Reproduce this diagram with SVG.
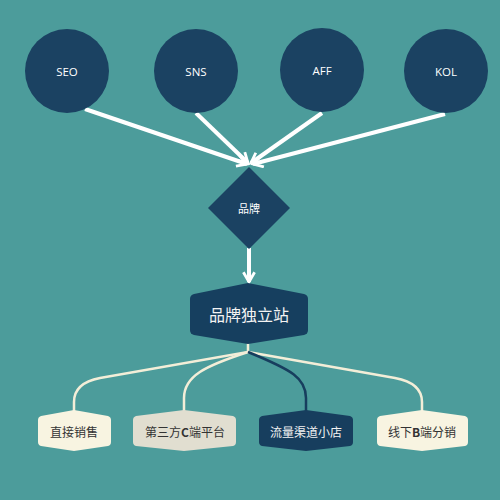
<svg xmlns="http://www.w3.org/2000/svg" width="500" height="500" viewBox="0 0 500 500">
<defs>
<style>
.circle{fill:#1b4262}
.lbl{font-family:"Open Sans","Noto Sans","Noto Sans CJK SC",sans-serif;font-size:11.5px;fill:#ffffff;text-anchor:middle;dominant-baseline:central}
.cjk{font-family:"Noto Sans CJK SC","Noto Sans",sans-serif;text-anchor:middle;dominant-baseline:central}
.arrow{stroke:#ffffff;stroke-width:4;fill:none}
.link{fill:none;stroke:#f3eed8;stroke-width:2.5}
.b{font-weight:bold}
</style>
<marker id="ah" viewBox="0 0 10 10" refX="8" refY="5" markerWidth="3.5" markerHeight="3.5" orient="auto" markerUnits="strokeWidth">
<path d="M1,1 L8,5 L1,9" fill="none" stroke="#ffffff" stroke-width="2"/>
</marker>
</defs>
<rect width="500" height="500" fill="#4c9c9b"/>
<g id="connectors">
<line class="arrow" x1="85" y1="109" x2="247" y2="164" marker-end="url(#ah)"/>
<line class="arrow" x1="196" y1="113" x2="248" y2="163" marker-end="url(#ah)"/>
<line class="arrow" x1="322" y1="113" x2="251" y2="163" marker-end="url(#ah)"/>
<line class="arrow" x1="445" y1="114" x2="253" y2="164" marker-end="url(#ah)"/>
<line class="arrow" x1="249" y1="248" x2="249" y2="282" marker-end="url(#ah)"/>
<path class="link" d="M248,343 L248,352 L100,378 Q74,383 74,402 L74,412"/>
<path class="link" d="M248,352 C205,366 184,376 184,398 L184,412"/>
<path class="link" d="M248,352 L395,378 Q422,383 422,402 L422,412"/>
<path class="link" style="stroke:#173e5e" d="M248,352 C292,370 306,378 306,398 L306,412"/>
</g>
<g id="seo"><circle class="circle" cx="67" cy="71" r="42"/><text class="lbl" x="67" y="71">SEO</text></g>
<g id="sns"><circle class="circle" cx="196" cy="71" r="42"/><text class="lbl" x="196" y="71">SNS</text></g>
<g id="aff"><circle class="circle" cx="322" cy="70" r="42"/><text class="lbl" x="322" y="70">AFF</text></g>
<g id="kol"><circle class="circle" cx="446" cy="71" r="42"/><text class="lbl" x="446" y="71">KOL</text></g>
<g id="brand"><polygon points="249,167 290,208 249,249 208,208" fill="#1b4262"/><text class="cjk" x="249" y="208" font-size="11" fill="#ffffff">品牌</text></g>
<g id="site"><path d="M248,283 L304,294 Q308,295 308,299 L308,330 Q308,334 304,335 L248,344 L194,335 Q190,334 190,330 L190,299 Q190,295 194,294 Z" fill="#163f5f"/><text class="cjk" x="249" y="314" font-size="16" fill="#f3f3f3">品牌独立站</text></g>
<g id="direct"><path d="M74,410 L108,416 Q111,417 111,420 L111,442 Q111,445 108,446 L74,451 L41,446 Q38,445 38,442 L38,420 Q38,417 41,416 Z" fill="#f8f4e1"/><text class="cjk" x="74" y="431" font-size="12" fill="#333333">直接销售</text></g>
<g id="thirdc"><path d="M184,410 L233,416 Q236,417 236,420 L236,442 Q236,445 233,446 L184,451 L136,446 Q133,445 133,442 L133,420 Q133,417 136,416 Z" fill="#e1ded0"/><text class="cjk" x="185" y="431" font-size="12" fill="#333333">第三方<tspan class="b">C</tspan>端平台</text></g>
<g id="traffic"><path d="M306,410 L350,416 Q353,417 353,420 L353,442 Q353,445 350,446 L306,451 L262,446 Q259,445 259,442 L259,420 Q259,417 262,416 Z" fill="#173e5e"/><text class="cjk" x="306" y="431" font-size="12" fill="#f3f3f3">流量渠道小店</text></g>
<g id="offline"><path d="M422,410 L465,416 Q468,417 468,420 L468,442 Q468,445 465,446 L422,451 L380,446 Q377,445 377,442 L377,420 Q377,417 380,416 Z" fill="#f8f4e1"/><text class="cjk" x="422" y="431" font-size="12" fill="#333333">线下<tspan class="b">B</tspan>端分销</text></g>
</svg>
